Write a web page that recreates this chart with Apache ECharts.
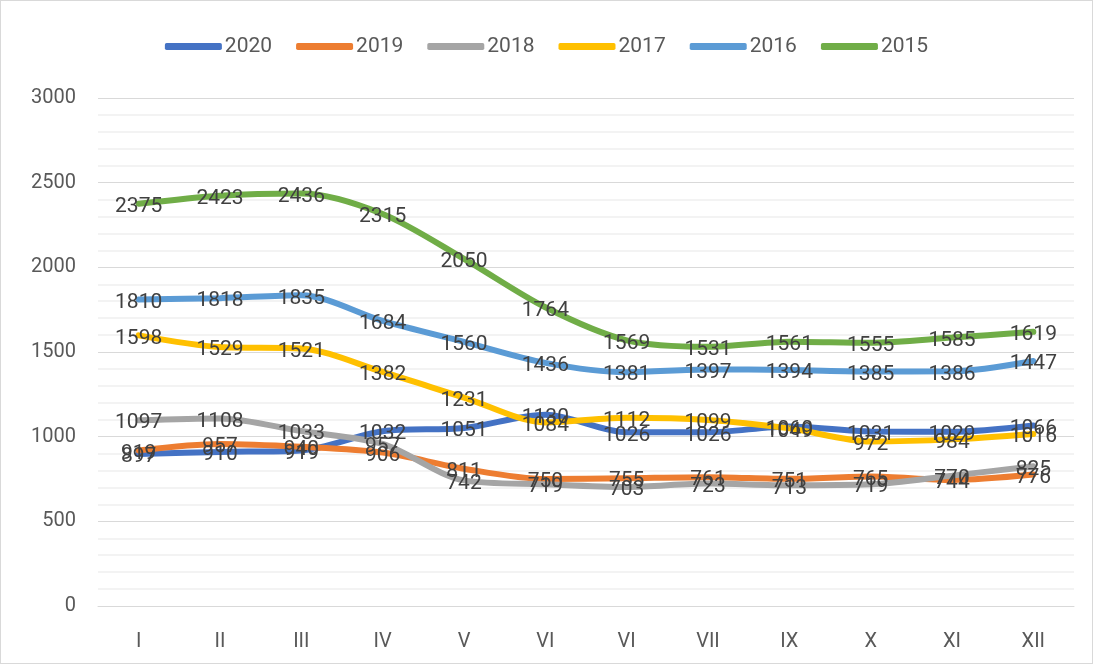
<!DOCTYPE html>
<html>
<head>
<meta charset="utf-8">
<script src="https://cdn.jsdelivr.net/npm/echarts@6/dist/echarts.min.js"></script>
<style>
  html, body { margin: 0; padding: 0; background: #fff; }
  #chart { width: 1091px; height: 662px; border: 1px solid #d9d9d9; }
</style>
</head>
<body>
<div id="chart"></div>
<script>
// months as printed in the source (the second "VI" is kept as is)
const months = ["I", "II", "III", "IV", "V", "VI", "VI", "VII", "IX", "X", "XI", "XII"];

const y2020 = [897, 910, 919, 1032, 1051, 1130, 1026, 1026, 1060, 1031, 1029, 1066];
const y2019 = [919, 957, 940, 906, 811, 750, 755, 761, 751, 765, 744, 776];
const y2018 = [1097, 1108, 1033, 957, 742, 719, 703, 723, 713, 719, 770, 825];
const y2017 = [1598, 1529, 1521, 1382, 1231, 1084, 1112, 1099, 1049, 972, 984, 1016];
const y2016 = [1810, 1818, 1835, 1684, 1560, 1436, 1381, 1397, 1394, 1385, 1386, 1447];
const y2015 = [2375, 2423, 2436, 2315, 2050, 1764, 1569, 1531, 1561, 1555, 1585, 1619];

const seriesDefs = [
  { name: "2020", color: "#4472C4", data: y2020 },
  { name: "2019", color: "#ED7D31", data: y2019 },
  { name: "2018", color: "#A5A5A5", data: y2018 },
  { name: "2017", color: "#FFC000", data: y2017 },
  { name: "2016", color: "#5B9BD5", data: y2016 },
  { name: "2015", color: "#70AD47", data: y2015 },
];

const FONT = "Roboto";
const TEXT = "#595959";

const chart = echarts.init(document.getElementById("chart"));
chart.setOption({
  animation: false,
  legend: {
    top: 30,
    left: "center",
    itemWidth: 57,
    itemHeight: 7,
    itemGap: 24,
    icon: "roundRect",
    textStyle: { fontFamily: FONT, fontSize: 21, color: TEXT, padding: [0, 0, 0, -2] },
    data: seriesDefs.map((s) => ({ name: s.name, itemStyle: { color: s.color } })),
  },
  grid: { left: 97, right: 18, top: 97, bottom: 57, containLabel: false },
  xAxis: {
    type: "category",
    data: months,
    boundaryGap: true,
    axisLine: { lineStyle: { color: "#d9d9d9" } },
    axisTick: { show: false },
    axisLabel: { fontFamily: FONT, fontSize: 20, color: TEXT, margin: 26 },
  },
  yAxis: {
    type: "value",
    min: 0,
    max: 3000,
    interval: 500,
    axisLine: { show: false },
    axisTick: { show: false },
    axisLabel: { fontFamily: FONT, fontSize: 20, color: TEXT, margin: 22, formatter: (v) => String(v) },
    splitLine: { lineStyle: { color: "#d9d9d9", width: 1 } },
    minorTick: { show: false, splitNumber: 5 },
    minorSplitLine: { show: true, lineStyle: { color: "#f0f0f0", width: 1.5 } },
  },
  series: seriesDefs.map((s) => ({
    name: s.name,
    type: "line",
    data: s.data,
    smooth: 0.3,
    symbol: "circle",
    symbolSize: 1,
    showSymbol: true,
    color: s.color,
    itemStyle: { color: s.color },
    lineStyle: { color: s.color, width: 6, cap: "round" },
    label: {
      show: true,
      position: "top",
      distance: -14,
      fontFamily: FONT,
      fontSize: 21,
      color: "#404040",
    },
    labelLayout: { hideOverlap: false },
  })),
});
</script>
</body>
</html>
